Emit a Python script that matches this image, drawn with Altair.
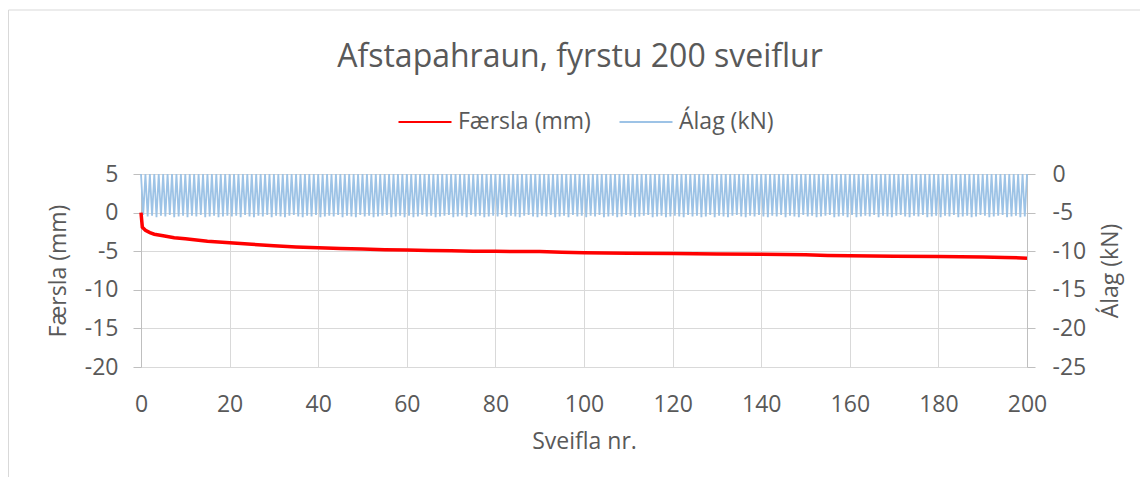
import altair as alt
import pandas as pd

TITLE = "Afstapahraun, fyrstu 200 sveiflur"
SERIES = ["Færsla (mm)", "Álag (kN)"]
COLORS = ["#FF0000", "#9DC3E6"]
FONT = "Open Sans"
TEXT = "#595959"

# Færsla (mm)
FAERSLA_X = [0, 0.3, 1, 2, 3, 5, 7.5, 10, 15, 20, 25, 30, 35, 40, 45, 50, 55, 60, 65, 70,
             75, 80, 85, 90, 95, 100, 110, 120, 130, 140, 150, 155, 160, 170, 180, 190, 195, 200]
FAERSLA_Y = [0.0, -1.9, -2.3, -2.6, -2.8, -3.0, -3.25, -3.4, -3.7, -3.9, -4.1, -4.3, -4.45, -4.55,
             -4.65, -4.7, -4.8, -4.85, -4.9, -4.95, -5.0, -5.0, -5.05, -5.05, -5.15, -5.2, -5.25,
             -5.3, -5.35, -5.4, -5.45, -5.55, -5.6, -5.65, -5.7, -5.75, -5.8, -5.9]

# Álag (kN): each cycle goes from the peak to a trough and back
ALAG_PEAK = 0.0
ALAG_TROUGH = [
    -5.3, -5.5, -5.4, -5.6, -5.4, -5.5, -5.3, -5.6, -5.5, -5.4, -5.6, -5.4, -5.5, -5.3, -5.6, -5.5, -5.4, -5.6, -5.5, -5.4,
    -5.5, -5.4, -5.6, -5.3, -5.5, -5.6, -5.4, -5.5, -5.3, -5.6, -5.4, -5.5, -5.6, -5.4, -5.3, -5.5, -5.6, -5.4, -5.5, -5.3,
    -5.6, -5.5, -5.4, -5.5, -5.3, -5.6, -5.4, -5.5, -5.6, -5.3, -5.5, -5.4, -5.6, -5.5, -5.4, -5.3, -5.6, -5.5, -5.4, -5.6,
    -5.4, -5.6, -5.5, -5.3, -5.5, -5.4, -5.6, -5.5, -5.4, -5.3, -5.6, -5.5, -5.4, -5.6, -5.3, -5.5, -5.4, -5.6, -5.5, -5.4,
    -5.5, -5.3, -5.6, -5.4, -5.5, -5.6, -5.4, -5.3, -5.5, -5.6, -5.4, -5.5, -5.3, -5.6, -5.5, -5.4, -5.6, -5.3, -5.5, -5.4,
    -5.6, -5.4, -5.5, -5.3, -5.6, -5.5, -5.4, -5.6, -5.5, -5.3, -5.4, -5.6, -5.5, -5.4, -5.3, -5.6, -5.5, -5.4, -5.6, -5.5,
    -5.4, -5.5, -5.6, -5.3, -5.5, -5.4, -5.6, -5.5, -5.3, -5.6, -5.4, -5.5, -5.6, -5.4, -5.3, -5.5, -5.6, -5.4, -5.5, -5.3,
    -5.5, -5.6, -5.4, -5.5, -5.3, -5.6, -5.4, -5.5, -5.6, -5.3, -5.5, -5.4, -5.6, -5.5, -5.4, -5.3, -5.6, -5.5, -5.4, -5.6,
    -5.3, -5.6, -5.5, -5.4, -5.5, -5.3, -5.6, -5.4, -5.5, -5.6, -5.4, -5.3, -5.5, -5.6, -5.4, -5.5, -5.3, -5.6, -5.5, -5.4,
    -5.6, -5.4, -5.5, -5.3, -5.6, -5.5, -5.4, -5.6, -5.5, -5.3, -5.4, -5.6, -5.5, -5.4, -5.3, -5.6, -5.5, -5.4, -5.6, -5.5,
]

X_TICKS = [0, 20, 40, 60, 80, 100, 120, 140, 160, 180, 200]
LEFT_TICKS = [5, 0, -5, -10, -15, -20]
RIGHT_TICKS = [0, -5, -10, -15, -20, -25]

red_df = pd.DataFrame({"x": FAERSLA_X, "y": FAERSLA_Y, "series": SERIES[0]})

bx, by = [], []
for i in range(len(ALAG_TROUGH)):
    bx.append(i); by.append(ALAG_PEAK)
    bx.append(i + 0.5); by.append(ALAG_TROUGH[i])
bx.append(len(ALAG_TROUGH)); by.append(ALAG_PEAK)
blue_df = pd.DataFrame({"x": bx, "y": by, "series": SERIES[1]})

color = alt.Color(
    "series:N",
    scale=alt.Scale(domain=SERIES, range=COLORS),
    sort=SERIES,
    legend=alt.Legend(
        title=None, orient="none", legendX=256, legendY=-80, direction="horizontal",
        symbolType="stroke", symbolSize=2809, symbolStrokeWidth=2.2,
        labelFont=FONT, labelFontSize=23, labelColor=TEXT, labelOffset=5,
        columnPadding=24,
    ),
)

x_enc = alt.X(
    "x:Q",
    scale=alt.Scale(domain=[0, 200], nice=False),
    axis=alt.Axis(
        values=X_TICKS, title="Sveifla nr.", grid=True, gridColor="#D9D9D9",
        domain=False, ticks=False, labelPadding=26, titlePadding=14,
        labelFlush=False, labelExpr="datum.value",
    ),
)

border = alt.Chart(pd.DataFrame({"a": [0]})).mark_rect(
    fill="transparent", stroke="#D9D9D9", strokeWidth=1
).encode(
    x=alt.value(-132.5), x2=alt.value(1020), y=alt.value(-164), y2=alt.value(330)
)

title = alt.Chart(pd.DataFrame({"t": [TITLE]})).mark_text(
    font=FONT, fontSize=32, color=TEXT, align="center", baseline="alphabetic"
).encode(text="t:N", x=alt.value(439), y=alt.value(-107))

red = alt.Chart(red_df).mark_line(strokeWidth=3.5, interpolate="linear").encode(
    x=x_enc,
    y=alt.Y(
        "y:Q",
        scale=alt.Scale(domain=[-20, 5], nice=False),
        axis=alt.Axis(
            orient="left", values=LEFT_TICKS, title="Færsla (mm)", grid=True,
            gridColor="#D9D9D9", domain=True, domainColor="#BFBFBF", ticks=True,
            tickColor="#BFBFBF", tickSize=8, labelPadding=15, titlePadding=14,
            labelExpr="datum.value",
        ),
    ),
    color=color,
)

blue = alt.Chart(blue_df).mark_line(strokeWidth=1.8).encode(
    x=x_enc,
    y=alt.Y(
        "y:Q",
        scale=alt.Scale(domain=[-25, 0], nice=False),
        axis=alt.Axis(
            orient="right", values=RIGHT_TICKS, title="Álag (kN)", grid=False,
            domain=True, domainColor="#BFBFBF", ticks=True, tickColor="#BFBFBF",
            tickSize=8, labelPadding=17, titlePadding=14, titleAngle=270,
            titleBaseline="top", labelExpr="datum.value",
        ),
    ),
    color=color,
)

chart = alt.layer(border, title, blue, red).resolve_scale(y="independent").properties(
    width=886,
    height=193,
    background="white",
    autosize=alt.AutoSizeParams(type="none"),
    padding={"left": 133, "top": 166, "right": 113, "bottom": 110},
).configure_axis(
    labelFont=FONT, labelFontSize=23, labelColor=TEXT,
    titleFont=FONT, titleFontSize=23, titleColor=TEXT, titleFontWeight="normal",
).configure_view(stroke="transparent")

chart.save("out.html", embed_options={"renderer": "svg", "actions": False})
